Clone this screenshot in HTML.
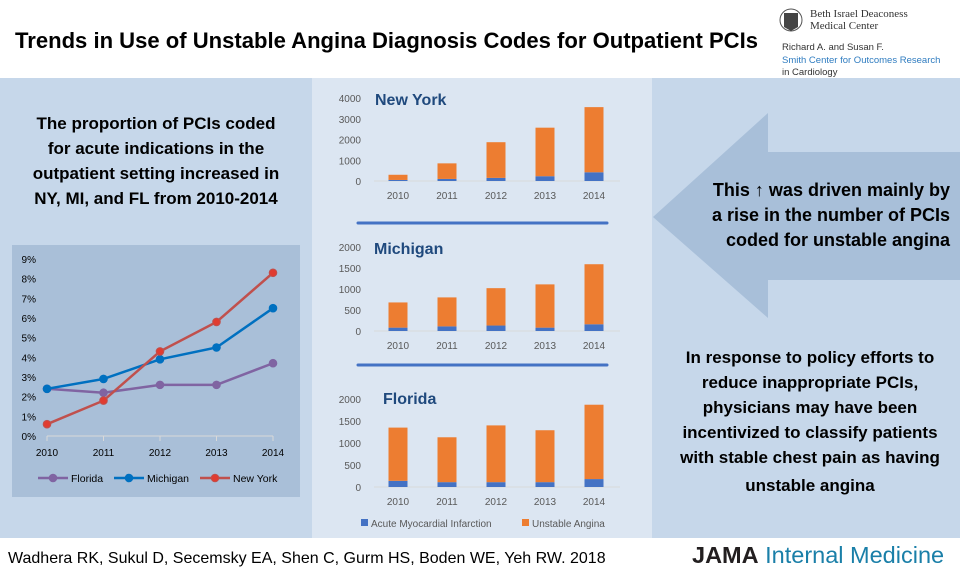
<!DOCTYPE html>
<html><head><meta charset="utf-8"><style>
html,body{margin:0;padding:0;width:960px;height:576px;overflow:hidden;background:#fff;font-family:"Liberation Sans",sans-serif}
svg{display:block}
</style></head><body>
<svg id="root" width="960" height="576" viewBox="0 0 960 576" xmlns="http://www.w3.org/2000/svg">
<rect x="0" y="0" width="960" height="78" fill="#fff"/>
<text x="15" y="48" font-size="22" font-weight="bold" fill="#000" textLength="743" lengthAdjust="spacingAndGlyphs">Trends in Use of Unstable Angina Diagnosis Codes for Outpatient PCIs</text>
<g>
<circle cx="791" cy="20" r="11" fill="none" stroke="#555" stroke-width="1"/>
<path d="M784 13 h14 v14 l-7 4 l-7 -4z" fill="#444"/>
<text x="810" y="17" font-family="Liberation Serif,serif" font-size="11" fill="#333">Beth Israel Deaconess</text>
<text x="810" y="29" font-family="Liberation Serif,serif" font-size="11" fill="#333">Medical Center</text>
<text x="782" y="50" font-size="9.5" fill="#333">Richard A. and Susan F.</text>
<text x="782" y="63" font-size="9.5" fill="#2f7cc0">Smith Center for Outcomes Research</text>
<text x="782" y="75" font-size="9.5" fill="#333">in Cardiology</text>
</g>
<rect x="0" y="78" width="312" height="460" fill="#c6d7ea"/>
<rect x="312" y="78" width="340" height="460" fill="#dce6f2"/>
<rect x="652" y="78" width="308" height="460" fill="#c6d7ea"/>
<polygon points="653,217 768,113 768,152 960,152 960,280 768,280 768,318" fill="#a8bfd9"/>
<g font-weight="bold" font-size="17" fill="#000" text-anchor="middle">
<text x="156" y="129">The proportion  of PCIs coded</text>
<text x="156" y="154">for acute indications in the</text>
<text x="156" y="179">outpatient setting increased in</text>
<text x="156" y="204">NY, MI, and FL from 2010-2014</text>
</g>
<g font-weight="bold" font-size="18" fill="#000" text-anchor="end">
<text x="950" y="196">This ↑ was driven mainly by</text>
<text x="950" y="221">a rise in the number of PCIs</text>
<text x="950" y="246">coded for unstable angina</text>
</g>
<g font-weight="bold" font-size="17" fill="#000" text-anchor="middle">
<text x="810" y="363">In response to policy efforts to</text>
<text x="810" y="388">reduce inappropriate  PCIs,</text>
<text x="810" y="413">physicians may have been</text>
<text x="810" y="438">incentivized to classify patients</text>
<text x="810" y="463">with stable chest pain as having</text>
<text x="810" y="491">unstable angina</text>
</g>
<rect x="12" y="245" width="288" height="252" fill="#a9bfd8"/>
<g id="lineChart"></g>
<g id="bars"></g>
<line x1="358" y1="223" x2="607" y2="223" stroke="#4472c4" stroke-width="3" stroke-linecap="round"/>
<line x1="358" y1="365" x2="607" y2="365" stroke="#4472c4" stroke-width="3" stroke-linecap="round"/>
<g font-size="10" fill="#595959">
<rect x="361" y="519" width="7" height="7" fill="#4472c4"/>
<text x="371" y="527">Acute Myocardial Infarction</text>
<rect x="522" y="519" width="7" height="7" fill="#ed7d31"/>
<text x="532" y="527">Unstable Angina</text>
</g>
<text x="8" y="563" font-size="16" fill="#000">Wadhera RK, Sukul D, Secemsky EA, Shen C, Gurm HS, Boden WE, Yeh RW. 2018</text>
<text x="692" y="563" font-size="23.5" fill="#222"><tspan font-weight="bold" fill="#231f20">JAMA</tspan><tspan fill="#1a7fa8"> Internal Medicine</tspan></text>
</svg>
<script>
const NS="http://www.w3.org/2000/svg";
const years=["2010","2011","2012","2013","2014"];
const floridaPct=[2.4,2.2,2.6,2.6,3.7];
const michiganPct=[2.4,2.9,3.9,4.5,6.5];
const newYorkPct=[0.6,1.8,4.3,5.8,8.3];
const pctTicks=[0,1,2,3,4,5,6,7,8,9];
const nyAmi=[50,100,150,230,420];
const nyUa=[250,750,1720,2340,3140];
const miAmi=[80,110,130,80,160];
const miUa=[600,690,890,1030,1430];
const flAmi=[140,110,110,110,180];
const flUa=[1210,1020,1290,1180,1690];
const nyTicks=[0,1000,2000,3000,4000];
const miTicks=[0,500,1000,1500,2000];
const flTicks=[0,500,1000,1500,2000];

function mk(tag,attrs,parent,txt){const e=document.createElementNS(NS,tag);for(const k in attrs)e.setAttribute(k,attrs[k]);if(txt!==undefined)e.textContent=txt;parent.appendChild(e);return e;}

const lc=document.getElementById('lineChart');
const lx=i=>47+i*(273-47)/(years.length-1);
const ly=v=>436-v*(436-259)/9;
mk('line',{x1:lx(0),y1:ly(0),x2:lx(4),y2:ly(0),stroke:'#d9d9d9','stroke-width':1},lc);
pctTicks.forEach(t=>{const e=mk('text',{x:36,y:ly(t)+4,'font-size':10,fill:'#000','text-anchor':'end'},lc,t+'%');

});
years.forEach((y,i)=>{mk('line',{x1:lx(i),y1:ly(0),x2:lx(i),y2:ly(0)+5,stroke:'#d9d9d9'},lc);
const e=mk('text',{x:lx(i),y:456,'font-size':10,fill:'#000','text-anchor':'middle'},lc,y);

});
const series=[[floridaPct,'#8064a2','#8064a2','florida'],[michiganPct,'#0070c0','#0070c0','michigan'],[newYorkPct,'#c0504d','#e03c31','new-york']];
series.forEach(([d,c,f,n])=>{
const g=mk('g',{},lc);


mk('polyline',{points:d.map((v,i)=>lx(i)+','+ly(v)).join(' '),fill:'none',stroke:c,'stroke-width':2.5},g);
d.forEach((v,i)=>{const p=mk('circle',{cx:lx(i),cy:ly(v),r:3.8,fill:f,stroke:c,'stroke-width':1},g);

});
});
const leg=[['Florida','#8064a2','#8064a2',38],['Michigan','#0070c0','#0070c0',114],['New York','#c0504d','#e03c31',200]];
leg.forEach(([t,c,f,x])=>{const g=mk('g',{},lc);


mk('line',{x1:x,y1:478,x2:x+30,y2:478,stroke:c,'stroke-width':2.5},g);
mk('circle',{cx:x+15,cy:478,r:3.8,fill:f,stroke:c},g);
mk('text',{x:x+33,y:482,'font-size':10.5,fill:'#000'},g,t);});

const bc=document.getElementById('bars');
const bx=i=>398+i*49;
function barChart(name,title,ami,ua,ticks,y0,yTop){
const g=mk('g',{},bc);


const max=ticks[ticks.length-1];
const sy=v=>y0-v*(y0-yTop)/max;
mk('line',{x1:374,y1:y0,x2:620,y2:y0,stroke:'#d9d9d9'},g);
ticks.forEach(t=>{const e=mk('text',{x:361,y:sy(t)+4,'font-size':10,fill:'#595959','text-anchor':'end'},g,t);

});
years.forEach((y,i)=>{const e=mk('text',{x:bx(i),y:y0+18,'font-size':10,fill:'#595959','text-anchor':'middle'},g,y);


const a=mk('rect',{x:bx(i)-9.5,y:sy(ami[i]),width:19,height:y0-sy(ami[i]),fill:'#4472c4'},g);


const u=mk('rect',{x:bx(i)-9.5,y:sy(ami[i]+ua[i]),width:19,height:sy(ami[i])-sy(ami[i]+ua[i]),fill:'#ed7d31'},g);

});
const tt=mk('text',{x:title[1],y:title[2],'font-size':16,'font-weight':'bold',fill:'#1f497d'},g,title[0]);


}
barChart('new-york',['New York',375,105],nyAmi,nyUa,nyTicks,181,98);
barChart('michigan',['Michigan',374,254],miAmi,miUa,miTicks,331,247);
barChart('florida',['Florida',383,404],flAmi,flUa,flTicks,487,399);
</script>
</body></html>
